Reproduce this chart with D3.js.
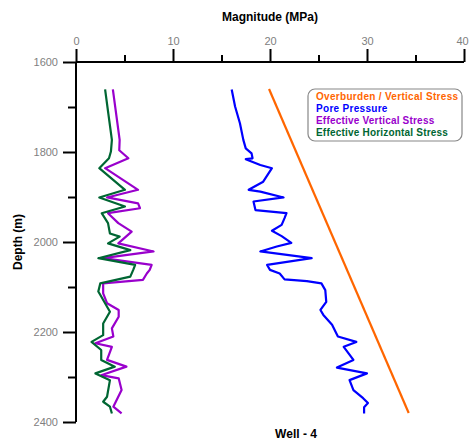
<!DOCTYPE html>
<html><head><meta charset="utf-8">
<script src="https://cdn.jsdelivr.net/npm/d3@7"></script>
<style>body{margin:0;background:#fff}svg{display:block}text{font-family:"Liberation Sans",Arial,sans-serif}</style>
</head><body><svg id="c" width="469" height="442"></svg>
<script>
const xTicks = [0,10,20,30,40];
const yTicks = [1600,1800,2000,2200,2400];
const seriesNames = ["Overburden / Vertical Stress","Pore Pressure","Effective Vertical Stress","Effective Horizontal Stress"];
const seriesColors = ["#FF6600","#0000FF","#9900CC","#006633"];
// [depth, MPa]
const overburden = [[1660,19.9],[2380,34.3]];
const porePressure = [[1661,16.05],[1699,16.4],[1736,16.9],[1773,17.25],[1792,17.5],[1803,18.1],[1814,18.2],[1816,17.5],[1829,19.0],[1836,20.2],[1866,19.3],[1884,17.8],[1888,19.0],[1901,21.4],[1910,18.3],[1929,18.5],[1936,21.7],[1947,21.5],[1962,21.2],[1975,20.2],[1987,21.2],[2002,22.2],[2010,20.7],[2021,19.0],[2036,24.3],[2051,19.7],[2062,20.0],[2070,21.0],[2083,21.5],[2087,23.8],[2092,25.3],[2107,25.7],[2133,25.8],[2151,25.2],[2162,25.5],[2184,26.4],[2210,27.0],[2222,28.9],[2233,27.6],[2262,28.6],[2279,26.9],[2292,30.0],[2307,28.2],[2329,28.6],[2347,29.6],[2358,30.1],[2367,29.7],[2381,29.7]];
const effVertical = [[1661,3.8],[1773,4.5],[1796,4.46],[1814,5.4],[1836,3.0],[1884,6.4],[1901,3.2],[1914,6.4],[1925,6.6],[1936,3.3],[1958,4.36],[1977,5.74],[2003,4.36],[2021,8.0],[2036,2.8],[2051,7.8],[2062,7.6],[2070,7.3],[2084,6.9],[2092,2.8],[2114,2.8],[2136,3.2],[2151,4.4],[2166,4.4],[2192,3.7],[2210,3.85],[2225,2.0],[2233,3.7],[2262,3.2],[2277,5.2],[2296,2.6],[2303,4.4],[2329,4.7],[2366,3.85],[2381,4.7]];
const effHorizontal = [[1661,3.0],[1714,3.33],[1773,3.7],[1799,3.6],[1814,3.4],[1836,2.4],[1884,5.05],[1901,2.4],[1921,5.05],[1936,2.65],[1958,3.3],[1981,3.5],[1988,4.5],[2003,3.3],[2018,5.6],[2036,2.3],[2051,6.1],[2062,5.9],[2077,5.6],[2092,2.5],[2110,2.3],[2121,2.6],[2155,3.5],[2181,2.8],[2207,2.8],[2222,1.6],[2240,2.6],[2262,2.6],[2277,4.0],[2292,2.0],[2307,3.5],[2344,3.2],[2355,2.8],[2366,3.5],[2381,3.7]];
const seriesData = [overburden, porePressure, effVertical, effHorizontal];

const svg = d3.select("#c");
const x = d3.scaleLinear().domain([0,40]).range([76,464]);
const y = d3.scaleLinear().domain([1600,2400]).range([62,422]);

// top axis
const xAxis = d3.axisTop(x).tickValues(d3.range(0,41,5)).tickSize(13).tickPadding(4)
  .tickFormat(d => xTicks.includes(d) ? d : "");
const gx = svg.append("g").attr("transform","translate(0,62)").call(xAxis);
gx.selectAll(".tick line").attr("y2", d => xTicks.includes(d) ? -13 : -7);
gx.selectAll(".tick text").attr("dx", d => d === 40 ? -2 : 0);
// left axis
const yAxis = d3.axisLeft(y).tickValues(d3.range(1600,2401,100)).tickSize(13).tickPadding(5)
  .tickFormat(d => yTicks.includes(d) ? d : "");
const gy = svg.append("g").attr("transform","translate(76,0)").call(yAxis);
gy.selectAll(".tick line").attr("x2", d => yTicks.includes(d) ? -13 : -8);
[gx,gy].forEach(g=>{
  g.selectAll(".tick line").attr("stroke","#000").attr("stroke-width",2);
  g.selectAll("text").attr("fill","#808080").attr("font-size",11).attr("font-family","Liberation Sans, Arial, sans-serif");
});
gx.select(".domain").remove(); gy.select(".domain").remove();
svg.append("line").attr("x1",x(0)).attr("x2",x(40)).attr("y1",y(1600)).attr("y2",y(1600)).attr("stroke","#000").attr("stroke-width",2);
svg.append("line").attr("x1",x(0)).attr("x2",x(0)).attr("y1",y(1600)).attr("y2",y(2400)).attr("stroke","#000").attr("stroke-width",2);

// titles
svg.append("text").attr("x",270).attr("y",21).attr("text-anchor","middle").attr("font-weight","bold").attr("font-size",12).text("Magnitude (MPa)");
svg.append("text").attr("transform","translate(22,242) rotate(-90)").attr("text-anchor","middle").attr("font-weight","bold").attr("font-size",12).text("Depth (m)");
svg.append("text").attr("x",296).attr("y",438).attr("text-anchor","middle").attr("font-weight","bold").attr("font-size",12).text("Well - 4");

// lines
const line = d3.line().x(d => x(d[1])).y(d => y(d[0]));
seriesData.forEach((s,i)=>{
  svg.append("path").datum(s).attr("d",line).attr("fill","none")
    .attr("stroke",seriesColors[i]).attr("stroke-width",2.2).attr("stroke-linejoin","round");
});

// legend
svg.append("rect").attr("x",308).attr("y",89).attr("width",154).attr("height",52).attr("rx",7)
  .attr("fill","#fff").attr("stroke","#888").attr("stroke-width",1.2);
const legendSpacing = [0.3,0.3,0.2,0.2];
seriesNames.forEach((n,i)=>{
  svg.append("text").attr("x",316).attr("y",100+i*12).attr("font-size",10).attr("font-weight","bold")
    .attr("letter-spacing",legendSpacing[i]).attr("fill",seriesColors[i]).text(n);
});
</script></body></html>
